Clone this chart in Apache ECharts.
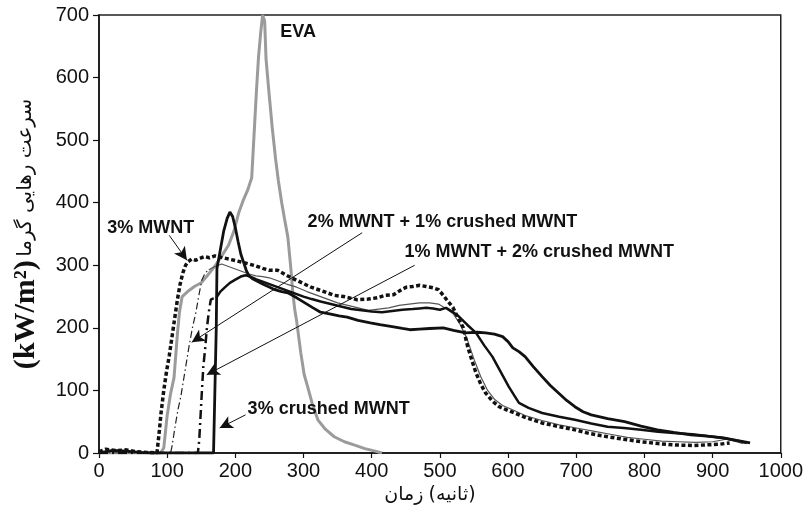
<!DOCTYPE html>
<html>
<head>
<meta charset="utf-8">
<script src="https://cdn.jsdelivr.net/npm/echarts@6/dist/echarts.min.js"></script>
<style>html,body{margin:0;padding:0;background:#fff}#c{width:806px;height:512px}</style>
</head>
<body>
<div id="c"></div>
<script>
// x tick labels / y tick labels
const xTicks = [0,100,200,300,400,500,600,700,800,900,1000];
const yTicks = [0,100,200,300,400,500,600,700];
// x-axis title words, left to right as printed
const xTitleWords = ['زمان', '(ثانیه)'];

// EVA (grey)
const eva = [[0,0],[90,0],[95,8],[100,60],[105,95],[110,120],[115,190],[118,225],[122,250],[130,258],[140,266],[150,272],[160,285],[171,300],[180,315],[190,332],[198,355],[205,384],[212,405],[218,420],[224,440],[228,520],[231,580],[234,633],[237,670],[240,700],[243,690],[245,630],[249,580],[254,521],[259,470],[263,436],[268,400],[272,375],[277,345],[281,300],[284,260],[287,230],[290,210],[296,160],[301,125],[306,106],[313,78],[321,53],[332,38],[345,26],[360,18],[374,13],[390,7],[405,3],[415,0]];

// 3% MWNT (thick dashed)
const mwnt3 = [[0,2],[10,6],[25,4],[40,5],[55,2],[70,1],[85,0],[88,30],[91,64],[95,100],[99,130],[103,155],[107,185],[111,215],[115,245],[119,270],[123,288],[127,300],[131,306],[136,310],[142,308],[148,311],[155,314],[162,312],[170,315],[178,313],[186,311],[194,309],[202,307],[210,305],[220,302],[230,299],[240,295],[250,292],[262,292],[275,284],[290,276],[311,265],[330,258],[345,252],[359,250],[379,245],[395,246],[408,248],[420,252],[432,253],[445,262],[451,265],[460,266],[470,268],[480,266],[490,264],[498,261],[505,252],[512,242],[519,233],[527,215],[534,201],[541,169],[547,148],[553,128],[560,110],[567,96],[577,83],[587,74],[600,68],[625,57],[650,48],[675,42],[698,37],[720,31],[746,26],[770,22],[795,18],[820,15],[843,13],[870,12],[892,13],[910,14],[925,16]];

// 2% MWNT + 1% crushed MWNT (thin)
const mwnt2c1 = [[0,0],[105,0],[107,10],[112,45],[116,70],[120,90],[126,130],[132,170],[137,200],[142,224],[147,255],[151,277],[156,288],[161,293],[170,298],[180,302],[190,298],[200,294],[210,290],[220,286],[230,283],[240,282],[250,280],[260,276],[275,270],[290,265],[305,258],[320,252],[335,246],[350,240],[365,236],[380,232],[395,228],[410,230],[425,232],[440,236],[455,238],[470,240],[485,240],[498,238],[510,230],[520,222],[530,205],[540,182],[550,150],[560,122],[570,100],[580,86],[592,76],[605,70],[625,60],[650,52],[675,45],[700,40],[725,35],[750,30],[775,25],[800,22],[825,19],[850,18],[875,17],[900,18],[920,22],[935,18],[945,15]];
const mwnt2c1Split = 13;

// 1% MWNT + 2% crushed MWNT (thick, dash-dot rise)
const mwnt1c2 = [[0,0],[145,0],[147,20],[149,60],[151,100],[153,138],[156,170],[158,197],[161,225],[164,245],[168,247],[172,248],[178,258],[185,265],[192,272],[200,277],[208,282],[215,284],[222,282],[230,278],[240,274],[250,270],[260,266],[270,262],[280,258],[290,254],[300,250],[312,246],[325,242],[340,238],[355,234],[370,230],[385,228],[400,226],[415,225],[430,227],[445,229],[460,230],[470,231],[480,232],[490,231],[500,229],[509,232],[518,226],[528,218],[540,205],[553,192],[565,172],[577,154],[589,130],[601,106],[609,92],[616,80],[630,72],[650,64],[675,58],[698,53],[722,47],[746,42],[770,40],[795,37],[820,34],[843,32],[870,30],[892,27],[915,24],[940,19],[950,16]];
const mwnt1c2Split = 11;

// 3% crushed MWNT (thick solid)
const crushed3 = [[0,0],[20,4],[40,3],[60,1],[80,0],[168,0],[170,100],[172,200],[173,295],[178,325],[183,355],[188,375],[192,385],[196,378],[200,360],[204,338],[208,318],[212,305],[216,292],[220,283],[226,278],[233,274],[240,270],[248,266],[258,261],[268,258],[277,256],[290,248],[302,240],[314,232],[325,225],[340,222],[352,219],[364,217],[380,212],[398,208],[412,205],[430,202],[445,199],[456,197],[470,198],[485,199],[505,200],[520,196],[538,192],[555,193],[567,192],[580,190],[592,186],[600,178],[607,168],[616,162],[625,154],[637,138],[650,122],[662,108],[674,96],[686,84],[698,74],[710,66],[722,61],[746,55],[771,50],[795,43],[819,37],[843,33],[868,29],[892,27],[916,24],[935,20],[955,16]];

// annotation labels: [text, x, y] in data units (left-middle anchor)
const labels = [
  ['EVA', 266, 673],
  ['3% MWNT', 12, 360],
  ['2% MWNT + 1% crushed MWNT', 306, 369],
  ['1% MWNT + 2% crushed MWNT', 448, 321],
  ['3% crushed MWNT', 218, 70]
];
// arrows: [startX, startY, tipX, tipY]
const arrows = [
  [103, 348, 129, 308],
  [386, 352, 136, 177],
  [463, 300, 158, 125],
  [215, 61, 177, 40]
];

const chart = echarts.init(document.getElementById('c'), null, {renderer: 'canvas'});
const lineS = (name, data, color, width, type) => ({
  name, type: 'line', data, showSymbol: false, symbol: 'none', animation: false,
  lineStyle: {color, width, type}, z: 3
});
const opt = {
  animation: false,
  grid: {left: 99, right: 18, top: 15, bottom: 59, show: true, borderColor: '#222', borderWidth: 1.5},
  xAxis: {
    type: 'value', min: 0, max: 1000, interval: 100,
    axisLine: {lineStyle: {color: '#111', width: 1.5}},
    axisTick: {length: 5, lineStyle: {color: '#111', width: 1.2}},
    axisLabel: {fontFamily: 'Liberation Sans, Arial', fontSize: 20, color: '#111', margin: 8,
      formatter: v => xTicks.includes(v) ? String(v) : ''},
    splitLine: {show: false}
  },
  yAxis: {
    type: 'value', min: 0, max: 700, interval: 100,
    axisLine: {show: true, lineStyle: {color: '#111', width: 1.5}},
    axisTick: {show: true, length: 6, lineStyle: {color: '#111', width: 1.2}},
    axisLabel: {fontFamily: 'Liberation Sans, Arial', fontSize: 20, color: '#111', margin: 10,
      formatter: v => yTicks.includes(v) ? String(v) : ''},
    splitLine: {show: false},
    name: '{en|(kW/m²)}{sp| }{fa|سرعت رهایی گرما}', nameLocation: 'middle', nameGap: 58, nameRotate: 90,
    nameTextStyle: {rich: {
      en: {fontFamily: 'Liberation Serif', fontWeight: 'bold', fontSize: 30, color: '#111'},
      sp: {fontSize: 12},
      fa: {fontFamily: 'DejaVu Sans', fontSize: 20, color: '#111'}
    }}
  },
  series: [
    lineS('EVA', eva, '#9b9b9b', 3, 'solid'),
    lineS('2% MWNT + 1% crushed MWNT rise', mwnt2c1.slice(0, mwnt2c1Split + 1), '#222', 1.2, [7, 3, 1.5, 3]),
    lineS('2% MWNT + 1% crushed MWNT', mwnt2c1.slice(mwnt2c1Split), '#555', 1.2, 'solid'),
    lineS('1% MWNT + 2% crushed MWNT rise', mwnt1c2.slice(0, mwnt1c2Split + 1), '#111', 2.5, [9, 4, 2, 4]),
    lineS('1% MWNT + 2% crushed MWNT', mwnt1c2.slice(mwnt1c2Split), '#111', 2.5, 'solid'),
    lineS('3% MWNT', mwnt3, '#111', 3.5, [4, 2.5]),
    Object.assign(lineS('3% crushed MWNT', crushed3, '#111', 2.8, 'solid'), {
      markLine: {
        silent: true, animation: false, symbol: ['none', 'arrow'], symbolSize: [10, 13],
        label: {show: false},
        lineStyle: {color: '#111', width: 1, type: 'solid'},
        data: arrows.map(a => [{coord: [a[0], a[1]]}, {coord: [a[2], a[3]]}])
      }
    })
  ]
};
chart.setOption(opt);
const g = labels.map(l => {
  const p = chart.convertToPixel({gridIndex: 0}, [l[1], l[2]]);
  return {type: 'text', x: p[0], y: p[1], z: 10,
    style: {text: l[0], fill: '#111', font: 'bold 18px "Liberation Sans", Arial', textVerticalAlign: 'middle', textAlign: 'left'}};
});
// x-axis title, printed word order
const mid = chart.convertToPixel({gridIndex: 0}, [495, 0]);
const xtFont = '19px "DejaVu Sans"';
g.push({type: 'text', x: mid[0] - 13, y: mid[1] + 42, z: 10,
  style: {text: xTitleWords[0], fill: '#111', font: xtFont, textAlign: 'right', textVerticalAlign: 'middle'}});
g.push({type: 'text', x: mid[0] - 8, y: mid[1] + 42, z: 10,
  style: {text: xTitleWords[1], fill: '#111', font: xtFont, textAlign: 'left', textVerticalAlign: 'middle'}});
chart.setOption({graphic: g});
</script>
</body>
</html>
